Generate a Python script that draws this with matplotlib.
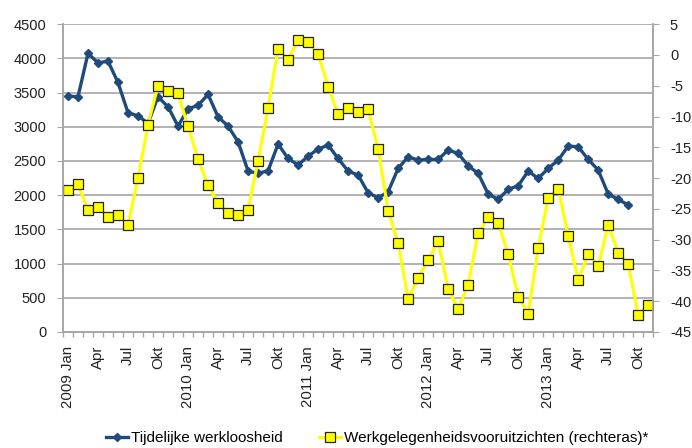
import numpy as np
import matplotlib
matplotlib.use('Agg')
import matplotlib.pyplot as plt

plt.rcParams.update({
    'font.family': ['Liberation Sans', 'DejaVu Sans'],
    'font.size': 10.5,
    'axes.unicode_minus': False,
})

# Tijdelijke werkloosheid (linkeras), jan 2009 - sep 2013
werkloosheid = [3448, 3438, 4072, 3935, 3959, 3648, 3205, 3160, 3050, 3438,
                3292, 3010, 3263, 3312, 3473, 3146, 3010, 2781, 2352, 2318,
                2357, 2747, 2537, 2440, 2571, 2674, 2732, 2537, 2352, 2294,
                2035, 1962, 2050, 2391, 2561, 2513, 2523, 2523, 2659, 2611,
                2430, 2318, 2016, 1938, 2085, 2138, 2352, 2245, 2391, 2513,
                2718, 2708, 2523, 2367, 2016, 1938, 1856]

# Werkgelegenheidsvooruitzichten (rechteras), jan 2009 - nov 2013
vooruitzichten = [-21.9, -21.0, -25.2, -24.7, -26.3, -26.0, -27.6, -20.0, -11.3, -5.0,
                  -5.9, -6.25, -11.6, -16.9, -21.2, -24.0, -25.6, -26.0, -25.2, -17.2,
                  -8.6, 1.05, -0.8, 2.5, 2.1, 0.2, -5.2, -9.6, -8.6, -9.2,
                  -8.85, -15.2, -25.3, -30.6, -39.6, -36.3, -33.3, -30.2, -38.0, -41.3,
                  -37.3, -29.0, -26.3, -27.3, -32.3, -39.3, -42.0, -31.3, -23.2, -21.7,
                  -29.4, -36.6, -32.3, -34.3, -27.6, -32.1, -34.0, -42.2, -40.6]

tick_labels = ['2009 Jan', 'Apr', 'Jul', 'Okt', '2010 Jan', 'Apr', 'Jul', 'Okt',
               '2011 Jan', 'Apr', 'Jul', 'Okt', '2012 Jan', 'Apr', 'Jul', 'Okt',
               '2013 Jan', 'Apr', 'Jul', 'Okt']

BLUE = '#1f4a7c'
YELLOW = '#ffff00'
GRID = '#a6a6a6'

n = len(vooruitzichten)
x = np.arange(n)

fig = plt.figure(figsize=(6.92, 4.48), dpi=100)
ax = fig.add_axes([0.091, 0.259, 0.853, 0.687])
ax2 = ax.twinx()

ax.plot(x[:len(werkloosheid)], werkloosheid, color=BLUE, lw=2.4,
        marker='D', ms=4.5, mec=BLUE, mfc=BLUE, label='Tijdelijke werkloosheid')
ax2.plot(x, vooruitzichten, color=YELLOW, lw=2.2, marker='s', ms=6.5,
         mfc=YELLOW, mec='#222222', mew=0.9,
         label='Werkgelegenheidsvooruitzichten (rechteras)*')

ax.set_ylim(0, 4500)
ax.set_yticks(np.arange(0, 4501, 500))
ax2.set_ylim(-45, 5)
ax2.set_yticks(np.arange(-45, 6, 5))
ax.set_xlim(-0.5, n - 0.5)

ax.grid(axis='y', color=GRID, lw=1.2)
ax.set_axisbelow(True)

ax.set_xticks(np.arange(0, n, 3))
ax.set_xticklabels(tick_labels, rotation=90)
ax.set_xticks(np.arange(-0.5, n, 1), minor=True)
ax.tick_params(axis='x', which='major', length=0, pad=10, labelsize=10.8)
ax.tick_params(axis='x', which='minor', length=3.6, color=GRID, width=1)
ax.tick_params(axis='y', length=4, color=GRID, pad=8, labelcolor='#222222')
ax2.tick_params(axis='y', length=4, color=GRID, pad=8, labelcolor='#222222')
ax.tick_params(axis='x', labelcolor='#222222')

for a in (ax, ax2):
    a.spines['top'].set_visible(False)
    for s in ('left', 'right', 'bottom'):
        a.spines[s].set_color(GRID)
        a.spines[s].set_linewidth(1.2)

h1, l1 = ax.get_legend_handles_labels()
h2, l2 = ax2.get_legend_handles_labels()
fig.legend(h1 + h2, l1 + l2, loc='lower center', bbox_to_anchor=(0.545, -0.025),
           ncol=2, frameon=False, handlelength=1.45, handletextpad=0.15,
           columnspacing=2.4, fontsize=11)

plt.savefig('out.png', dpi=100)
plt.close()
